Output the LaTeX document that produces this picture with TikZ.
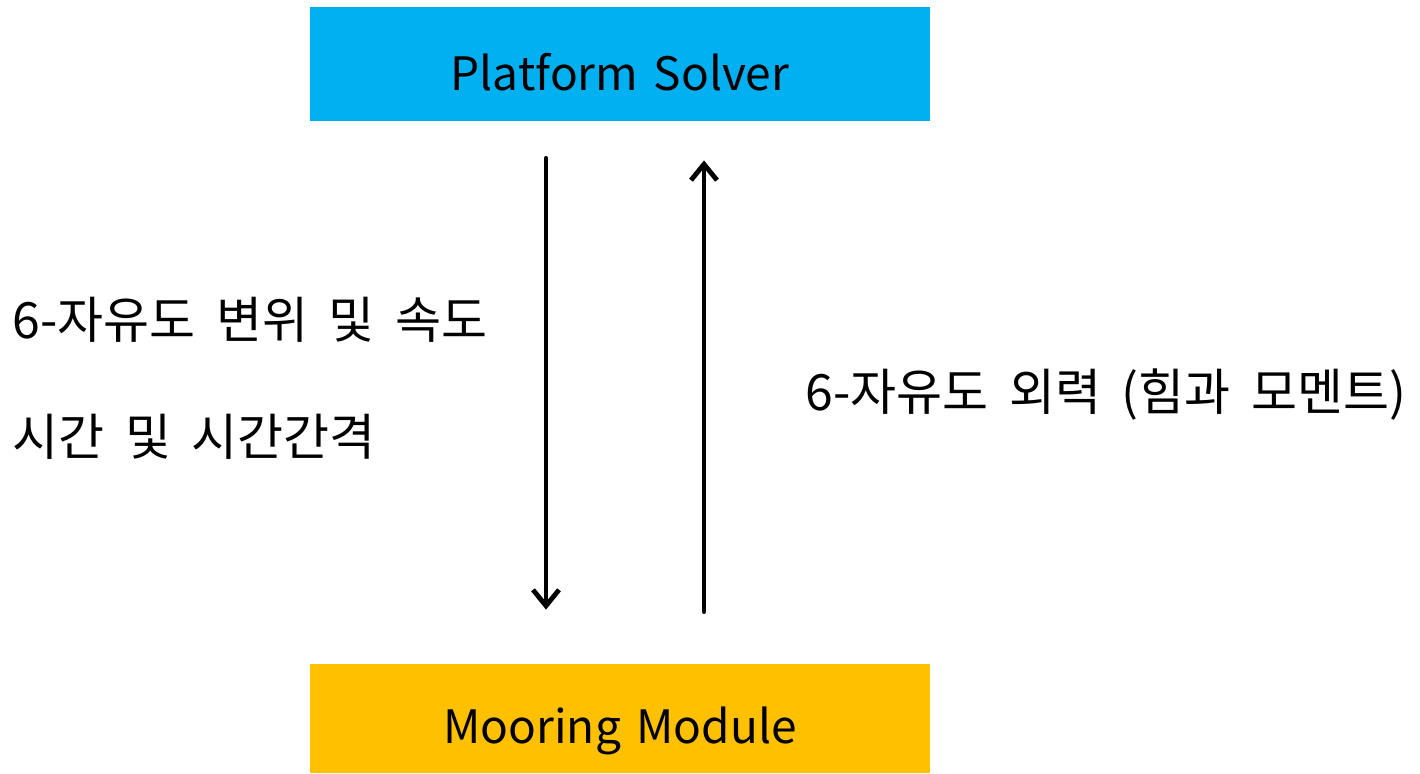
\documentclass[tikz,border=0pt]{standalone}
\usepackage{fontspec}
\setmainfont[WordSpace=1.5]{Noto Sans CJK KR}
\newfontfamily\kofont[WordSpace=1.85]{Noto Sans CJK KR}
\usetikzlibrary{arrows.meta}
\definecolor{solverBlue}{RGB}{0,176,240}
\definecolor{mooringGold}{RGB}{255,192,0}
\newcommand{\lowered}[2]{\raisebox{-#1}[\height][\depth]{#2}}
\begin{document}
\begin{tikzpicture}
[x=0.5pt,y=-0.5pt,
  boxDecorate/.style={rectangle,minimum width=310pt,inner sep=0pt,font=\fontsize{23}{27}\selectfont},%
  labelDecorate/.style={anchor=west,inner sep=0pt,font=\kofont\fontsize{25}{29}\selectfont},%
  flowDecorate/.style={line width=2.4pt,-{Straight Barb[length=8pt,width=13pt,line width=2.4pt]},line cap=round}]
\useasboundingbox (0,0) rectangle (1420,773);
%% blocks
\node (platform) at (620,64) [boxDecorate,fill=solverBlue,minimum height=57pt] {\lowered{4pt}{Platform Solver}};
\node (mooring) at (620,718.5) [boxDecorate,fill=mooringGold,minimum height=54.5pt] {\lowered{6pt}{Mooring Module}};
%% exchanged quantities
\node (motion) at (12,320) [labelDecorate] {6-자유도 변위 및 속도};
\node (timeinfo) at (12,437) [labelDecorate] {시간 및 시간간격};
\node (loads) at (805,395) [labelDecorate] {6-자유도 외력 (힘과 모멘트)};
%% arrows
\coordinate (downx) at (546,0);
\coordinate (upx) at (704,0);
\draw[flowDecorate,shorten <=18.5pt,shorten >=27pt] (platform.south -| downx) -- (mooring.north -| downx);
\draw[flowDecorate,shorten <=26pt,shorten >=19.5pt] (mooring.north -| upx) -- (platform.south -| upx);
\end{tikzpicture}
\end{document}
